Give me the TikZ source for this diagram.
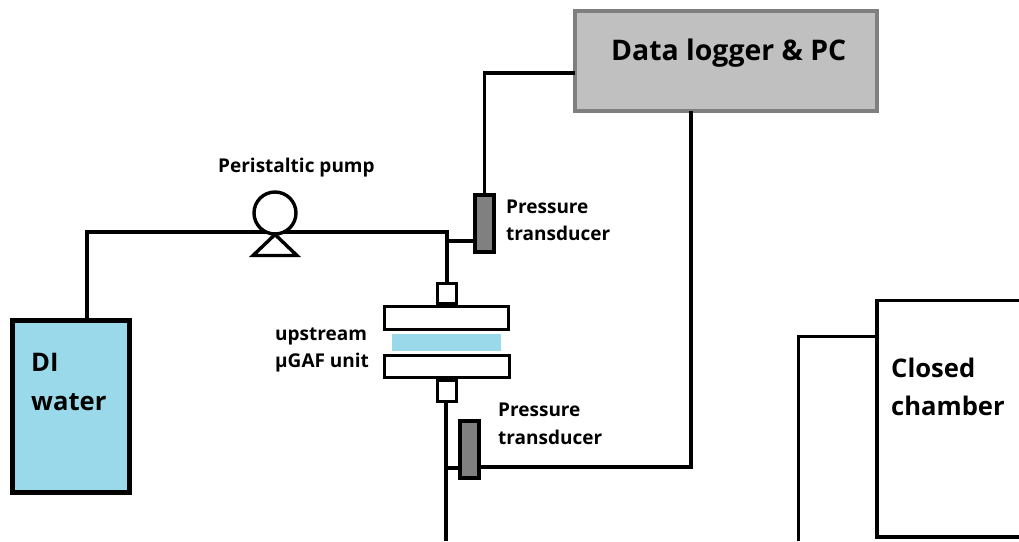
\documentclass[tikz,border=0pt]{standalone}
\usepackage{fontspec}
\setmainfont{Open Sans}
\definecolor{waterblue}{HTML}{99D9EA}
\definecolor{loggergray}{HTML}{C0C0C0}
\definecolor{loggeredge}{HTML}{7F7F7F}
\definecolor{transgray}{HTML}{808080}
\tikzset{
  wire/.style={draw=black,line width=3.4pt,line cap=butt,line join=miter},
  partbox/.style={draw=black,fill=white,line width=3.4pt,rectangle,outer sep=0pt,inner sep=0pt},
  transducer/.style={partbox,fill=transgray,line width=4pt,minimum width=19pt,minimum height=57pt},
  label/.style={font=\bfseries\fontsize{19}{27.5}\selectfont,anchor=base west,inner sep=0pt,align=left},
  biglabel/.style={label,font=\bfseries\fontsize{25.6}{38}\selectfont},
}
\begin{document}
\begin{tikzpicture}[x=1pt,y=-1pt]
\useasboundingbox (0,0) rectangle (1019,541);
\fill[white] (0,0) rectangle (1019,541);
% parts
\node[partbox,draw=loggeredge,fill=loggergray,line width=4pt,minimum width=302pt,minimum height=100pt] (logger) at (726,61) {};
\node[partbox,line width=5pt,fill=waterblue,minimum width=117pt,minimum height=172pt] (tank) at (71,406.5) {};
\node[transducer] (ptup) at (484,223) {};
\node[transducer] (ptdown) at (469.5,449.5) {};
\node[partbox,minimum width=19.5pt,minimum height=20.5pt] (topport) at (447,293.5) {};
\node[partbox,minimum width=124pt,minimum height=23pt] (upperplate) at (446.5,318) {};
\node[rectangle,fill=waterblue,inner sep=0pt,minimum width=109pt,minimum height=17pt] (membrane) at (446.5,342.5) {};
\node[partbox,minimum width=125pt,minimum height=22.5pt] (lowerplate) at (447,366.5) {};
\node[partbox,minimum width=19.5pt,minimum height=21.5pt] (botport) at (447,391) {};
% helper coordinates
\coordinate (tankbend) at (87,232);
\coordinate (tee) at (447,232);
\coordinate (logbend) at (484.5,73);
\coordinate (sigbend) at (691,467);
\coordinate (downout) at (446,541);
\coordinate (pumpbaseL) at (253,255.5);
\coordinate (pumpbaseR) at (297,255.5);
\coordinate (pumpapex) at (275,234.5);
\coordinate (chamberTL) at (877,300.5);
\coordinate (chamberTR) at (1019,300.5);
\coordinate (chamberBL) at (877,537);
\coordinate (chamberBR) at (1019,537);
\coordinate (partTop) at (798.5,336.5);
\coordinate (partJoin) at (877,336.5);
\coordinate (partBot) at (798.5,541);
% connectors
\draw[wire] (tank.north -| tankbend) -- (tankbend) -- (tee) -- (topport.north -| tee);
\draw[wire] (tee |- 0,241) -- (ptup.west |- 0,241);
\draw[wire] (logger.west |- logbend) -- (logbend) -- (ptup.north -| logbend);
\draw[wire] (logger.south -| sigbend) -- (sigbend) -- (ptdown.east |- sigbend);
\draw[wire] (botport.south -| downout) -- (downout);
\draw[wire] (downout |- 0,468) -- (ptdown.west |- 0,468);
% pump
\node[partbox,circle,minimum size=42pt] (pump) at (275,213) {};
\draw[wire] (pumpbaseL) -- (pumpapex) -- (pumpbaseR) -- cycle;
% chamber
\draw[wire] (chamberBR) -- (chamberBL) -- (chamberTL) -- (chamberTR);
\draw[wire] (partBot) -- (partTop) -- (partJoin);
% labels
\node[biglabel,font=\bfseries\fontsize{28.4}{38}\selectfont] (tlog) at (611,60) {Data logger \& PC};
\node[label] (tpump) at (218,172) {Peristaltic pump};
\node[label] (tpt1a) at (506,213) {Pressure};
\node[label] (tpt1b) at (506,240) {transducer};
\node[label] (tpt2a) at (498,416) {Pressure};
\node[label] (tpt2b) at (498,444) {transducer};
\node[label] (tup) at (275,340) {upstream};
\node[label] (tgaf) at (275,367) {µGAF unit};
\node[biglabel] (tdi) at (31,371) {DI};
\node[biglabel] (twater) at (31,410) {water};
\node[biglabel] (tclosed) at (891,377) {Closed};
\node[biglabel] (tcham) at (891,415) {chamber};
\end{tikzpicture}
\end{document}
